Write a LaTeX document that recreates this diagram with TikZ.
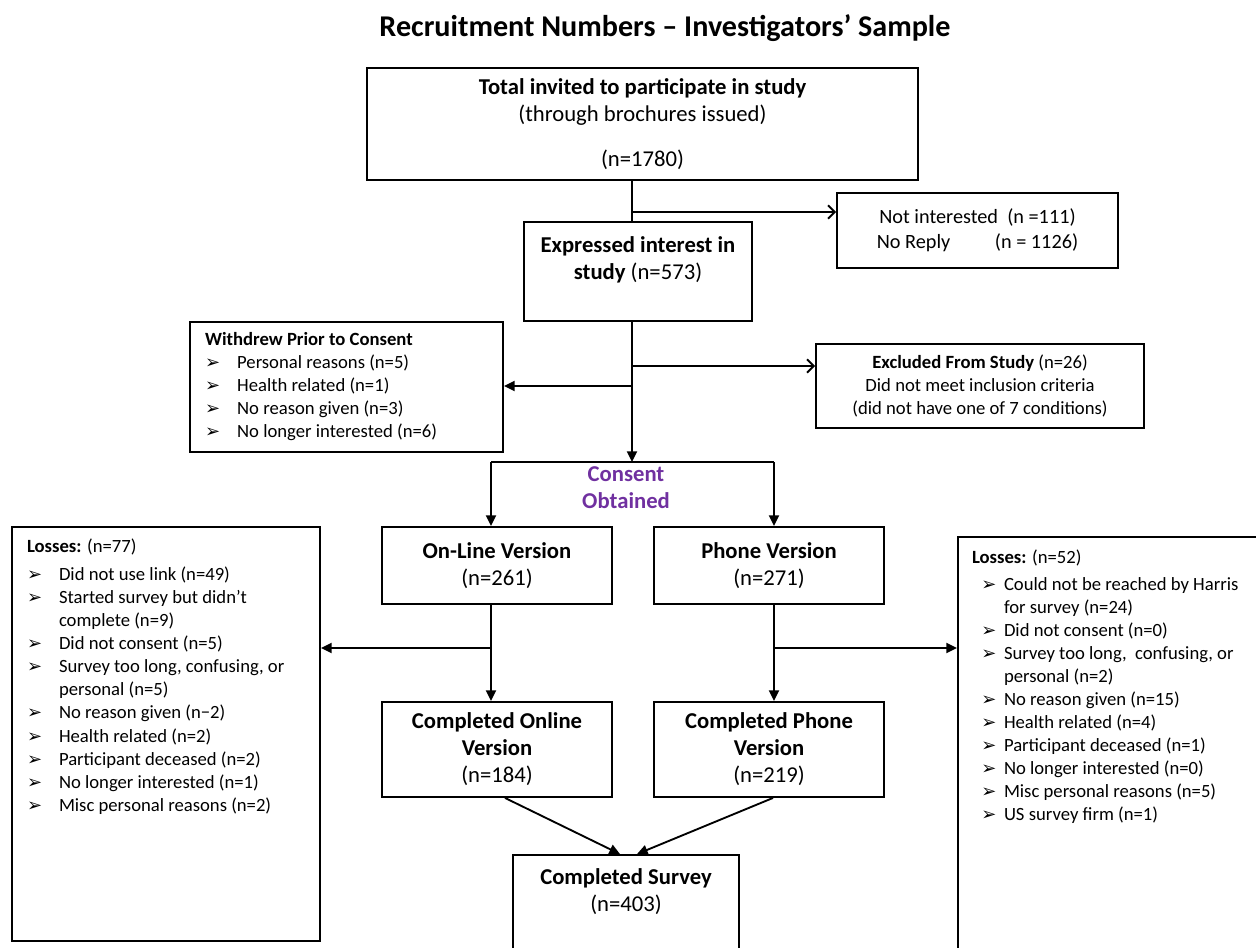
\documentclass[tikz,border=0pt]{standalone}
\usepackage{fontspec}
\setmainfont{Carlito}
\newfontfamily\arrowfont{DejaVu Sans}
\usepackage{tikz}
\usetikzlibrary{positioning}
\usetikzlibrary{calc}
\usetikzlibrary{arrows.meta}
\definecolor{consentpurple}{HTML}{7030A0}
\tikzset{every picture/.style={line width=1.4pt},
  box/.style={draw,align=center,inner sep=2pt,font=\fontsize{17}{20.3}\selectfont},
  side/.style={draw,align=center,inner sep=2pt,font=\fontsize{14}{17.3}\selectfont},
  wh/.style 2 args={minimum width=#1*0.75pt,minimum height=#2*0.75pt},
  arr/.style={-{Triangle[length=8pt,width=7.5pt]}},
  openarr/.style={-{Straight Barb[length=5pt,width=10pt]}}}
\newcommand{\bul}{{\arrowfont\fontsize{13.5}{13.5}\selectfont ➢}}

\begin{document}
\begin{tikzpicture}[x=0.75pt,y=-0.75pt]
\clip (0,0) rectangle (1256,948);
\node[font=\fontsize{22.6}{26}\selectfont\bfseries] (title) at (665,28) {Recruitment Numbers -- Investigators' Sample};
% main column
\node[box,wh={551}{112}] (top) at (642.5,124) {\textbf{Total invited to participate in study}\\(through brochures issued)\\[13pt](n=1780)};
\node[box,wh={228}{99}] (expr) at (638,271.5) {\textbf{Expressed interest in}\\\textbf{study} (n=573)\\\mbox{}};
\node[side,wh={281}{75},font=\fontsize{15.2}{19}\selectfont] (notint) at (977.5,230.5) {Not interested\ \ (n =111)\\No Reply\hspace{2.2em}(n = 1126)};
\node[draw,wh={313}{130},inner sep=0pt] (withdrew) at (346.5,387)
  {\makebox[212pt][l]{\fontsize{14}{17.3}\selectfont\begin{tabular}{@{}p{24pt}@{}l@{}}
  \multicolumn{2}{@{}l}{\textbf{Withdrew Prior to Consent}}\\
  \bul & Personal reasons (n=5)\\
  \bul & Health related (n=1)\\
  \bul & No reason given (n=3)\\
  \bul & No longer interested (n=6)
  \end{tabular}}};
\node[side,wh={328}{84}] (excl) at (980,386) {\textbf{Excluded From Study} (n=26)\\Did not meet inclusion criteria\\(did not have one of 7 conditions)};
\node[font=\fontsize{17}{20.3}\selectfont\bfseries,text=consentpurple,align=center] (consent) at (626,488) {Consent\\Obtained};
% two arms
\node[box,wh={230}{77}] (online) at (497,565.5) {\textbf{On-Line Version}\\(n=261)};
\node[box,wh={230}{77}] (phone) at (769,565.5) {\textbf{Phone Version}\\(n=271)};
\node[box,wh={230}{95}] (conline) at (497,749.5) {\textbf{Completed Online}\\\textbf{Version}\\(n=184)};
\node[box,wh={230}{95}] (cphone) at (769,749.5) {\textbf{Completed Phone}\\\textbf{Version}\\(n=219)};
\node[box,wh={226}{98}] (survey) at (626,904) {\textbf{Completed Survey}\\(n=403)\\\mbox{}};
% losses
\node[draw,wh={308}{414}] (lossL) at (166,734) {};
\node[anchor=north west,inner sep=0pt] (lossLtxt) at ($(lossL.north west)+(15,9)$)
  {\fontsize{14}{17.3}\selectfont\begin{tabular}{@{}p{24pt}@{}l@{}}
  \multicolumn{2}{@{}l}{\textbf{Losses:} (n=77)}\\[4pt]
  \bul & Did not use link (n=49)\\
  \bul & Started survey but didn't\\
       & complete (n=9)\\
  \bul & Did not consent (n=5)\\
  \bul & Survey too long, confusing, or\\
       & personal (n=5)\\
  \bul & No reason given (n−2)\\
  \bul & Health related (n=2)\\
  \bul & Participant deceased (n=2)\\
  \bul & No longer interested (n=1)\\
  \bul & Misc personal reasons (n=2)
  \end{tabular}};
\node[draw,wh={310}{420}] (lossR) at (1113,747) {};
\node[anchor=north west,inner sep=0pt] (lossRtxt) at ($(lossR.north west)+(14,10)$)
  {\fontsize{14}{17.3}\selectfont\begin{tabular}{@{}p{7pt}@{}p{17pt}@{}l@{}}
  \multicolumn{3}{@{}l}{\textbf{Losses:} (n=52)}\\[3pt]
  & \bul & Could not be reached by Harris\\
  &      & for survey (n=24)\\
  & \bul & Did not consent (n=0)\\
  & \bul & Survey too long,\ \ confusing, or\\
  &      & personal (n=2)\\
  & \bul & No reason given (n=15)\\
  & \bul & Health related (n=4)\\
  & \bul & Participant deceased (n=1)\\
  & \bul & No longer interested (n=0)\\
  & \bul & Misc personal reasons (n=5)\\
  & \bul & US survey firm (n=1)
  \end{tabular}};
% branch points
\coordinate (s1) at (632,212);
\coordinate (s2) at (632,366);
\coordinate (s3) at (632,386);
\coordinate (cons) at (632,462);
\coordinate (cl) at (491,462);
\coordinate (cr) at (774,462);
\coordinate (ol) at (491,648);
\coordinate (or) at (774,648);
% connectors
\draw (top.south -| s1) -- (expr.north -| s1);
\draw[openarr] (s1) -- (notint.west |- s1);
\draw[arr] (expr.south -| s2) -- (cons);
\draw[openarr] (s2) -- (excl.west |- s2);
\draw[arr] (s3) -- (withdrew.east |- s3);
\draw (cl) -- (cr);
\draw[arr] (cl) -- (online.north -| cl);
\draw[arr] (cr) -- (phone.north -| cr);
\draw[arr] (online.south -| ol) -- (conline.north -| ol);
\draw[arr] (ol) -- (lossL.east |- ol);
\draw[arr] (phone.south -| or) -- (cphone.north -| or);
\draw[arr] (or) -- (lossR.west |- or);
\draw[arr] ($(conline.south)+(8,0)$) -- ($(survey.north)+(-6,0)$);
\draw[arr] ($(cphone.south)+(4,0)$) -- ($(survey.north)+(11,0)$);
\end{tikzpicture}
\end{document}
